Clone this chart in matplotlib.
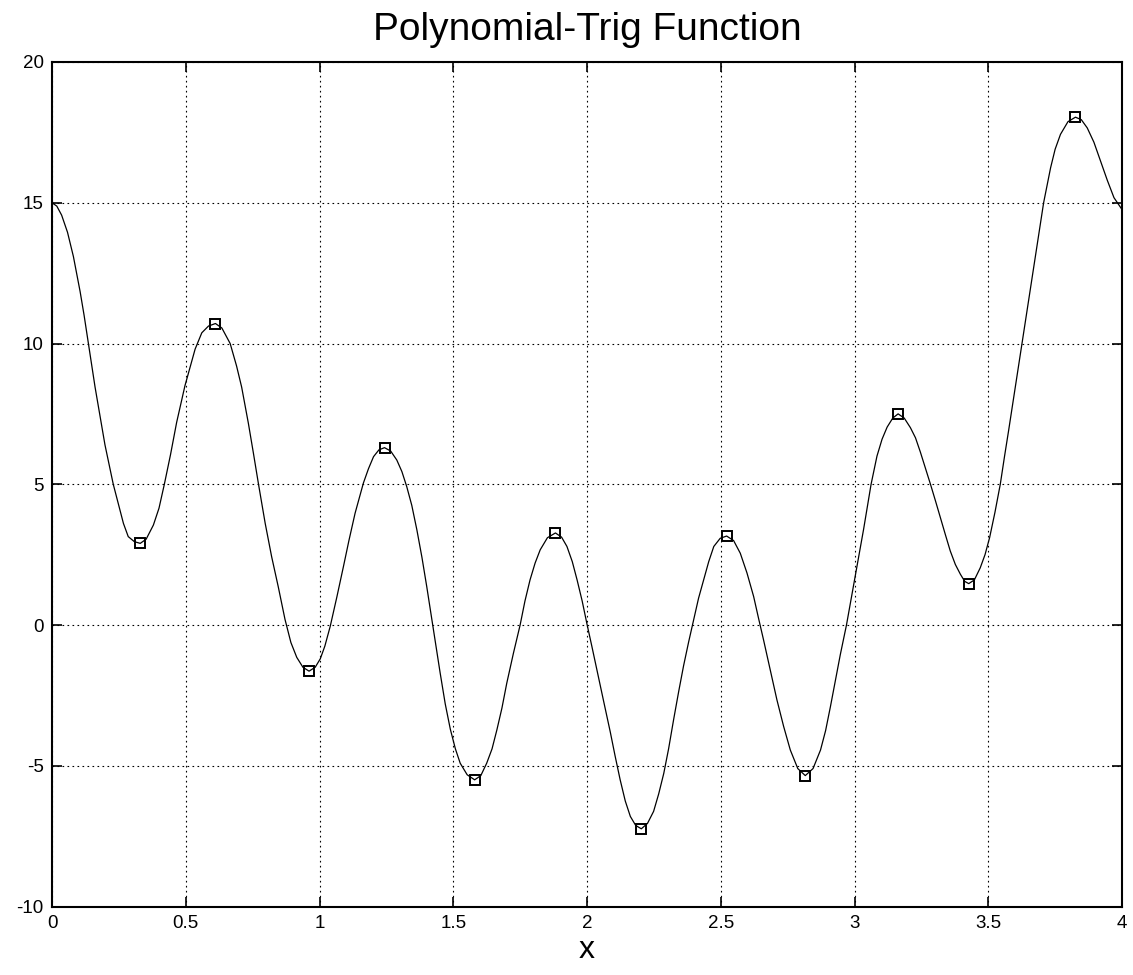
import matplotlib
matplotlib.use("Agg")
import matplotlib.pyplot as plt

plt.rcParams['font.family'] = ['Liberation Sans', 'DejaVu Sans']

title = "Polynomial-Trig Function"
xlabel = "x"

# curve readings (x, f(x))
curve_x = [0.000, 0.018, 0.036, 0.058, 0.080, 0.105, 0.120, 0.136, 0.161, 0.186,
           0.198, 0.229, 0.267, 0.285, 0.308, 0.330, 0.352, 0.379, 0.400, 0.420,
           0.443, 0.466, 0.497, 0.535, 0.560, 0.585, 0.611, 0.635, 0.666, 0.690,
           0.709, 0.734, 0.753, 0.772, 0.797, 0.821, 0.846, 0.871, 0.893, 0.915,
           0.938, 0.961, 0.984, 1.003, 1.020, 1.040, 1.065, 1.090, 1.110, 1.133,
           1.164, 1.183, 1.202, 1.222, 1.243, 1.266, 1.289, 1.308, 1.326, 1.345,
           1.364, 1.383, 1.401, 1.420, 1.451, 1.470, 1.489, 1.508, 1.526, 1.552,
           1.580, 1.603, 1.625, 1.645, 1.663, 1.682, 1.700, 1.725, 1.750, 1.768,
           1.787, 1.806, 1.825, 1.852, 1.882, 1.905, 1.925, 1.945, 1.963, 1.982,
           2.000, 2.018, 2.037, 2.062, 2.087, 2.105, 2.124, 2.143, 2.162, 2.182,
           2.203, 2.226, 2.249, 2.268, 2.287, 2.305, 2.324, 2.343, 2.361, 2.380,
           2.399, 2.417, 2.436, 2.455, 2.474, 2.498, 2.522, 2.548, 2.573, 2.598,
           2.623, 2.641, 2.660, 2.685, 2.710, 2.735, 2.760, 2.788, 2.816, 2.845,
           2.873, 2.892, 2.910, 2.929, 2.947, 2.970, 2.988, 3.005, 3.034, 3.062,
           3.084, 3.103, 3.122, 3.143, 3.163, 3.186, 3.209, 3.228, 3.246, 3.265,
           3.284, 3.303, 3.321, 3.340, 3.358, 3.377, 3.396, 3.412, 3.427, 3.448,
           3.470, 3.488, 3.505, 3.525, 3.545, 3.561, 3.576, 3.601, 3.626, 3.658,
           3.683, 3.707, 3.733, 3.750, 3.770, 3.798, 3.826, 3.848, 3.870, 3.895,
           3.920, 3.945, 3.970, 4.000]
curve_y = [15.00, 14.88, 14.56, 13.95, 13.09, 11.85, 11.00, 10.00, 8.45, 7.05,
           6.40, 5.00, 3.61, 3.14, 2.96, 2.90, 3.05, 3.55, 4.15, 5.00,
           6.05, 7.20, 8.50, 9.80, 10.38, 10.62, 10.71, 10.55, 10.00, 9.20,
           8.45, 7.17, 6.10, 5.00, 3.61, 2.43, 1.35, 0.20, -0.62, -1.15,
           -1.50, -1.64, -1.50, -1.20, -0.75, -0.05, 1.00, 2.10, 3.00, 3.97,
           5.04, 5.55, 5.98, 6.22, 6.30, 6.18, 5.86, 5.45, 4.92, 4.25,
           3.38, 2.40, 1.36, 0.20, -1.70, -2.80, -3.70, -4.40, -4.91, -5.32,
           -5.50, -5.35, -4.91, -4.40, -3.73, -2.95, -2.07, -1.00, 0.00, 0.85,
           1.60, 2.20, 2.67, 3.10, 3.27, 3.12, 2.79, 2.25, 1.60, 0.85,
           0.03, -0.75, -1.60, -2.70, -3.80, -4.65, -5.50, -6.25, -6.80, -7.12,
           -7.24, -7.05, -6.62, -6.00, -5.27, -4.40, -3.35, -2.35, -1.45, -0.60,
           0.20, 0.95, 1.60, 2.25, 2.79, 3.08, 3.16, 3.00, 2.55, 1.85,
           1.01, 0.25, -0.53, -1.60, -2.66, -3.60, -4.44, -5.10, -5.35, -5.10,
           -4.44, -3.75, -2.90, -1.95, -1.05, 0.00, 0.95, 1.84, 3.40, 5.00,
           6.00, 6.60, 7.03, 7.35, 7.50, 7.35, 7.01, 6.65, 6.15, 5.58,
           5.00, 4.40, 3.81, 3.20, 2.63, 2.15, 1.80, 1.55, 1.47, 1.60,
           2.03, 2.50, 3.10, 4.00, 5.00, 6.00, 6.90, 8.45, 10.00, 11.98,
           13.52, 15.00, 16.24, 16.90, 17.43, 17.88, 18.04, 17.95, 17.66, 17.15,
           16.48, 15.80, 15.18, 14.76]

# marked extrema
extrema_x = [0.330, 0.611, 0.961, 1.243, 1.580, 1.882, 2.203, 2.522, 2.816, 3.163, 3.427, 3.826]
extrema_y = [2.90, 10.71, -1.64, 6.29, -5.49, 3.27, -7.23, 3.16, -5.35, 7.49, 1.46, 18.04]

xticks = [0, 0.5, 1, 1.5, 2, 2.5, 3, 3.5, 4]
xticklabels = ["0", "0.5", "1", "1.5", "2", "2.5", "3", "3.5", "4"]
yticks = [-10, -5, 0, 5, 10, 15, 20]
yticklabels = ["-10", "-5", "0", "5", "10", "15", "20"]

fig = plt.figure(figsize=(11.33, 9.75), dpi=100)
ax = fig.add_axes([52/1133, 1 - 906.5/975, (1122 - 52)/1133, (906.5 - 62)/975])

ax.plot(curve_x, curve_y, color='black', linewidth=0.9)
ax.plot(extrema_x, extrema_y, linestyle='none', marker='s', markersize=7.8,
        markerfacecolor='none', markeredgecolor='black', markeredgewidth=1.4)

ax.set_xlim(0, 4)
ax.set_ylim(-10, 20)
ax.set_xticks(xticks)
ax.set_xticklabels(xticklabels)
ax.set_yticks(yticks)
ax.set_yticklabels(yticklabels)

ax.grid(True, color='black', linestyle=(0, (1.5, 3)), linewidth=0.8)
ax.tick_params(direction='in', length=7, width=1.2, top=True, right=True,
               labelsize=13.5, colors='black')
ax.tick_params(axis='x', pad=6)
ax.tick_params(axis='y', pad=6)
for s in ax.spines.values():
    s.set_linewidth(1.5)
    s.set_color('black')

ax.set_title(title, fontsize=28, pad=16)
ax.set_xlabel(xlabel, fontsize=23, labelpad=2)

fig.savefig("out.png", dpi=100, facecolor='white')
